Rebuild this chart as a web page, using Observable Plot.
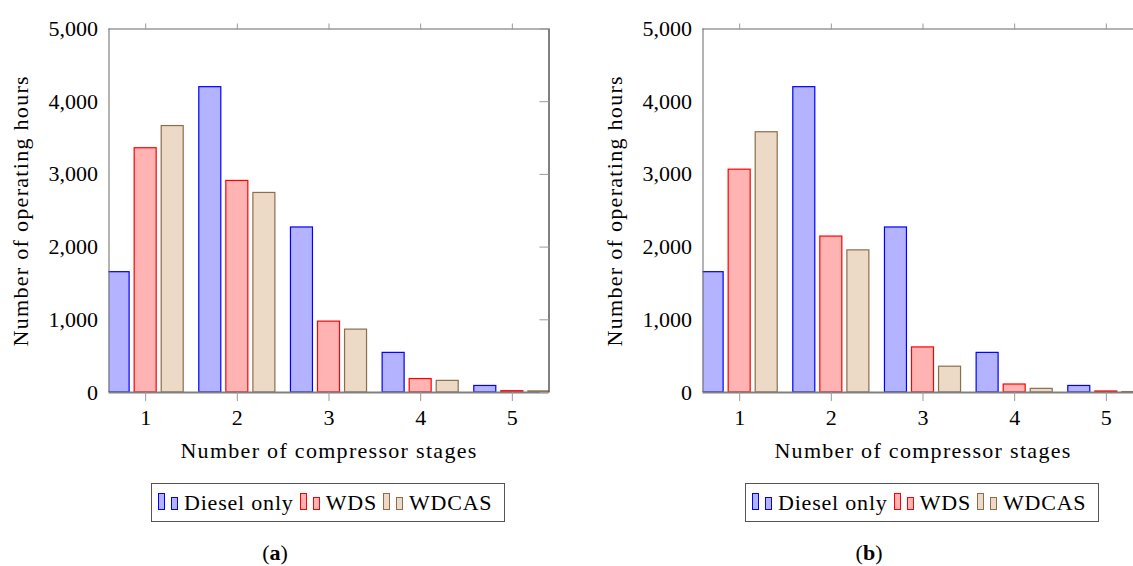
<!DOCTYPE html>
<html>
<head>
<meta charset="utf-8">
<script src="https://cdn.jsdelivr.net/npm/d3@7"></script>
<script src="https://cdn.jsdelivr.net/npm/@observablehq/plot@0.6"></script>
<style>
  html, body { margin: 0; padding: 0; background: #fff; }
  body { width: 1133px; height: 566px; overflow: hidden; position: relative; font-family: "Liberation Serif", "Times New Roman", "DejaVu Serif", serif; color: #000; }
  .panel { position: absolute; top: 0; width: 560px; height: 566px; }
  .panel svg { position: absolute; left: 0; top: 0; overflow: visible; }
  g[aria-label="x-axis label"] text, g[aria-label="y-axis label"] text { letter-spacing: 1.3px; }
  .legend { position: absolute; left: 151px; top: 483px; width: 346px; height: 37px; border: 1px solid #555;
            display: flex; align-items: baseline; padding-left: 6px; box-sizing: content-box; font-size: 22px; letter-spacing: 0.8px; line-height: 37px; }
  .icon { display: inline-block; box-sizing: border-box; width: 7px; border: 1px solid; }
  .i1 { height: 17px; margin-right: 6px; }
  .i2 { height: 13px; margin-right: 6px; }
  .lab { margin-right: 6px; }
  .caption { position: absolute; top: 540px; width: 100px; text-align: center; font-size: 22px; line-height: 26px; }
</style>
</head>
<body>
<script>
// ---- data ----
const stages = [1, 2, 3, 4, 5];
const seriesNames = ["Diesel only", "WDS", "WDCAS"];
const yTicks = [0, 1000, 2000, 3000, 4000, 5000];

// panel (a)
const dieselA = [1655, 4200, 2270, 545, 90];
const wdsA    = [3360, 2910, 975, 185, 18];
const wdcasA  = [3665, 2745, 865, 160, 15];

// panel (b)
const dieselB = [1655, 4200, 2270, 545, 90];
const wdsB    = [3065, 2145, 620, 110, 14];
const wdcasB  = [3580, 1955, 355, 50, 6];

const fills   = ["#b3b3ff", "#ffb3b3", "#ecd9c6"];
const strokes = ["#0000ff", "#ff0000", "#8f6d4b"];
const shifts  = [-0.295, 0, 0.295];
const barW = 0.24;
const FONT = "'Liberation Serif', 'Times New Roman', 'DejaVu Serif', serif";

function makePanel(seriesValues) {
  const barMarks = seriesValues.map((vals, si) => {
    const rows = stages.map((s, i) => ({stage: s, value: vals[i]}));
    return Plot.rectY(rows, {
      x1: d => d.stage + shifts[si] - barW / 2,
      x2: d => d.stage + shifts[si] + barW / 2,
      y: "value",
      fill: fills[si],
      stroke: strokes[si],
      strokeWidth: 1.2,
      clip: true
    });
  });
  return Plot.plot({
    width: 560,
    height: 470,
    marginLeft: 108.5,
    marginRight: 11.5,
    marginTop: 28.5,
    marginBottom: 78,
    style: {fontFamily: FONT, fontSize: "22px", color: "#000", background: "transparent", overflow: "visible"},
    x: {domain: [0.6, 5.4]},
    y: {domain: [0, 5000]},
    marks: [
      ...barMarks,
      Plot.ruleX([0.6], {stroke: "#666"}),
      Plot.ruleY([5000], {stroke: "#666"}),
      Plot.ruleX([5.4], {stroke: "#000"}),
      Plot.ruleY([0], {stroke: "#808080", strokeWidth: 2}),
      Plot.axisX(stages, {anchor: "bottom", tickSize: 9, tickPadding: 8, stroke: "#999",
        tickFormat: d => String(d),
        label: "Number of compressor stages", labelArrow: "none", labelAnchor: "center", labelOffset: 65}),
      Plot.axisX(stages, {anchor: "top", tickSize: 6, stroke: "#999", fill: "none", label: null}),
      Plot.axisY(yTicks, {anchor: "left", tickSize: 0, tickPadding: 11, tickFormat: d3.format(","),
        label: "Number of operating hours", labelArrow: "none", labelAnchor: "center", labelOffset: 97}),
      Plot.axisY(yTicks, {anchor: "right", tickSize: 10, dx: -10, stroke: "#999", fill: "none", label: null})
    ]
  });
}

function legendEl() {
  const lg = document.createElement("div");
  lg.className = "legend";
  seriesNames.forEach((name, i) => {
    const a = document.createElement("span");
    a.className = "icon i1";
    a.style.background = fills[i]; a.style.borderColor = strokes[i];
    const b = document.createElement("span");
    b.className = "icon i2";
    b.style.background = fills[i]; b.style.borderColor = strokes[i];
    const t = document.createElement("span");
    t.className = "lab";
    t.textContent = name;
    lg.append(a, b, t);
  });
  return lg;
}

function addPanel(left, seriesValues, letter) {
  const p = document.createElement("div");
  p.className = "panel";
  p.style.left = left + "px";
  p.appendChild(makePanel(seriesValues));
  p.appendChild(legendEl());
  const cap = document.createElement("div");
  cap.className = "caption";
  cap.style.left = "225px";
  cap.innerHTML = "(<b>" + letter + "</b>)";
  p.appendChild(cap);
  document.body.appendChild(p);
}

addPanel(0, [dieselA, wdsA, wdcasA], "a");
addPanel(594, [dieselB, wdsB, wdcasB], "b");
</script>
</body>
</html>
